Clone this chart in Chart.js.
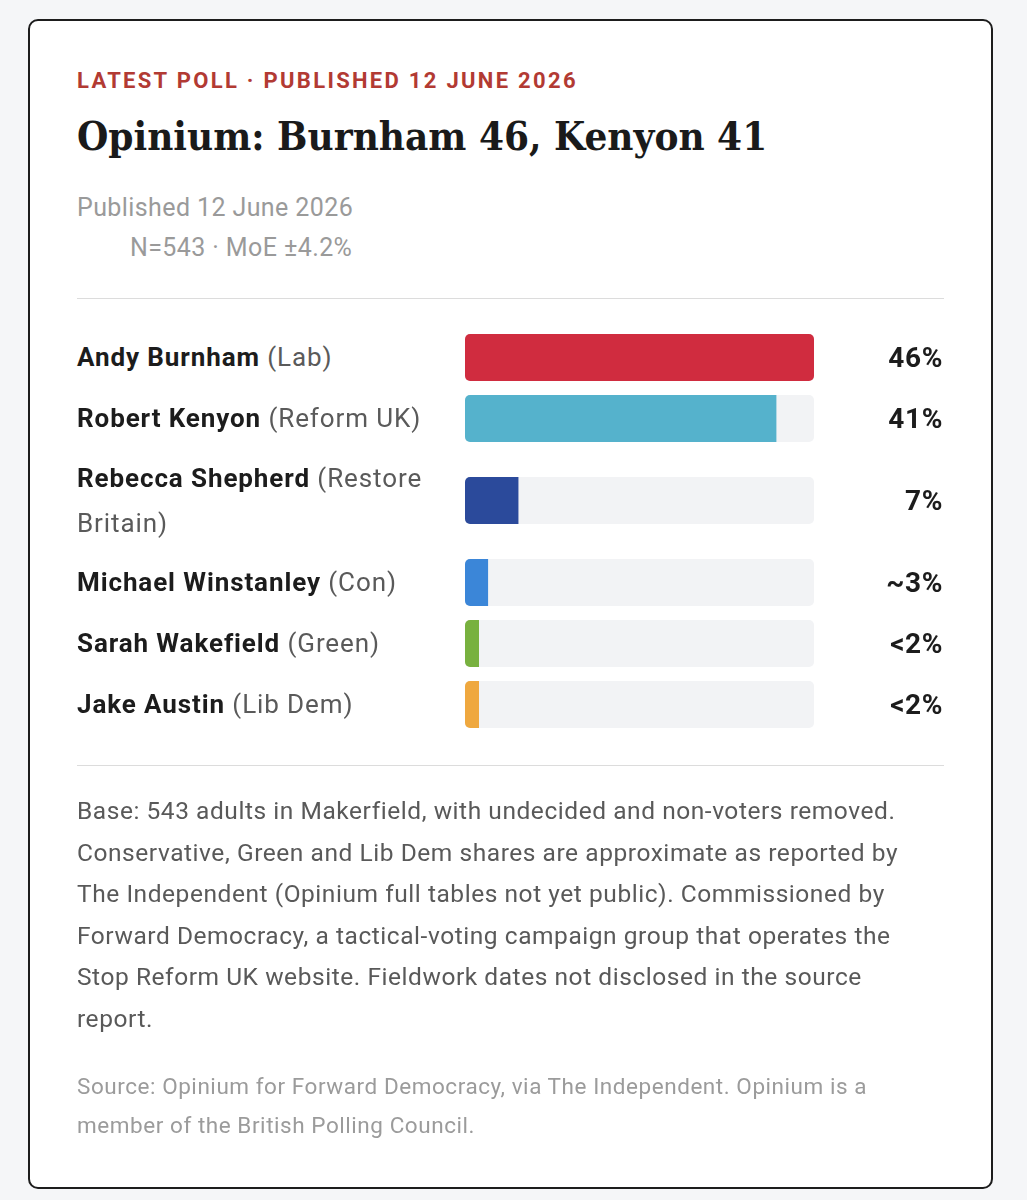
<!DOCTYPE html>
<html>
<head>
<meta charset="utf-8">
<script src="https://cdn.jsdelivr.net/npm/chart.js@4.4.1/dist/chart.umd.min.js"></script>
<style>
  html, body { margin: 0; padding: 0; background: #f5f6f8; }
  body { width: 1027px; height: 1200px; font-family: Roboto, "Noto Sans", sans-serif; }
  .card {
    position: absolute; left: 28px; top: 19px; width: 867px; height: 1071px;
    background: #fff; border: 2px solid #1d1d1d; border-radius: 10px;
    padding: 48px 47px 47px 47px;
  }
  .kicker { font-size: 22px; line-height: 24px; font-weight: 700; color: #b23a33; letter-spacing: 2.3px; }
  h1 { margin: 19px 0 0 0; font-family: "DejaVu Serif Condensed", "DejaVu Serif", serif; font-stretch: condensed;
       font-size: 40px; line-height: 48px; font-weight: 700; color: #1a1a1a; }
  .meta { margin-top: 28px; font-size: 25px; line-height: 40px; color: #9a9a9a; letter-spacing: 0.4px; }
  .meta .n { padding-left: 53px; }
  hr { border: 0; border-top: 1px solid #dcdcdc; margin: 0; }
  .hr1 { margin-top: 30px; }
  .rows { margin-top: 35px; }
  .row { display: flex; align-items: center; margin-bottom: 14px; }
  .label { width: 365px; margin-right: 23px; font-size: 26px; line-height: 44.5px; color: #5a5a5a; letter-spacing: 0.9px; }
  .label b { color: #1c1c1c; font-weight: 700; }
  .track { width: 349px; height: 47px; border-radius: 5px; overflow: hidden; background: #f2f3f5; }
  .value { width: 129px; text-align: right; font-size: 28px; font-weight: 700; color: #1c1c1c; letter-spacing: 0.6px; }
  .hr2 { margin-top: 37px; }
  .note { margin-top: 24px; font-size: 24.5px; line-height: 41.5px; color: #595959; letter-spacing: 0.55px; }
  .source { margin-top: 28px; font-size: 22.5px; line-height: 39px; color: #9b9b9b; letter-spacing: 0.55px; }
</style>
</head>
<body>
<div class="card">
  <div class="kicker">LATEST POLL · PUBLISHED 12 JUNE 2026</div>
  <h1>Opinium: Burnham 46, Kenyon 41</h1>
  <div class="meta">
    <div>Published 12 June 2026</div>
    <div class="n">N=543 · MoE ±4.2%</div>
  </div>
  <hr class="hr1">
  <div class="rows" id="rows"></div>
  <hr class="hr2">
  <div class="note">Base: 543 adults in Makerfield, with undecided and non-voters removed. Conservative, Green and Lib Dem shares are approximate as reported by The Independent (Opinium full tables not yet public). Commissioned by Forward Democracy, a tactical-voting campaign group that operates the Stop Reform UK website. Fieldwork dates not disclosed in the source report.</div>
  <div class="source">Source: Opinium for Forward Democracy, via The Independent. Opinium is a member of the British Polling Council.</div>
</div>
<script>
const candidates = ['Andy Burnham', 'Robert Kenyon', 'Rebecca Shepherd', 'Michael Winstanley', 'Sarah Wakefield', 'Jake Austin'];
const parties = ['Lab', 'Reform UK', 'Restore Britain', 'Con', 'Green', 'Lib Dem'];
const shares = [46, 41, 7, 3, 1.8, 1.8];
const shareLabels = ['46%', '41%', '7%', '~3%', '<2%', '<2%'];
const partyColours = ['#d02c3f', '#55b2cc', '#2b4a9b', '#3b86d8', '#78b13f', '#efa83f'];

document.addEventListener('DOMContentLoaded', () => {
    const rowsEl = document.getElementById('rows');
    const maxShare = Math.max(...shares);

    candidates.forEach((name, i) => {
        const row = document.createElement('div');
        row.className = 'row';
        row.innerHTML =
            '<div class="label"><b>' + name + '</b> (' + parties[i] + ')</div>' +
            '<div class="track"><canvas width="349" height="47"></canvas></div>' +
            '<div class="value">' + shareLabels[i] + '</div>';
        rowsEl.appendChild(row);

        const ctx = row.querySelector('canvas').getContext('2d');
        new Chart(ctx, {
            type: 'bar',
            data: {
                labels: [name],
                datasets: [{
                    data: [shares[i]],
                    backgroundColor: partyColours[i],
                    borderWidth: 0,
                    barPercentage: 1,
                    categoryPercentage: 1
                }]
            },
            options: {
                indexAxis: 'y',
                responsive: false,
                animation: false,
                layout: { padding: 0 },
                plugins: { legend: { display: false }, tooltip: { enabled: false } },
                scales: {
                    x: { display: false, min: 0, max: maxShare },
                    y: { display: false }
                }
            }
        });
    });
});
</script>
</body>
</html>
